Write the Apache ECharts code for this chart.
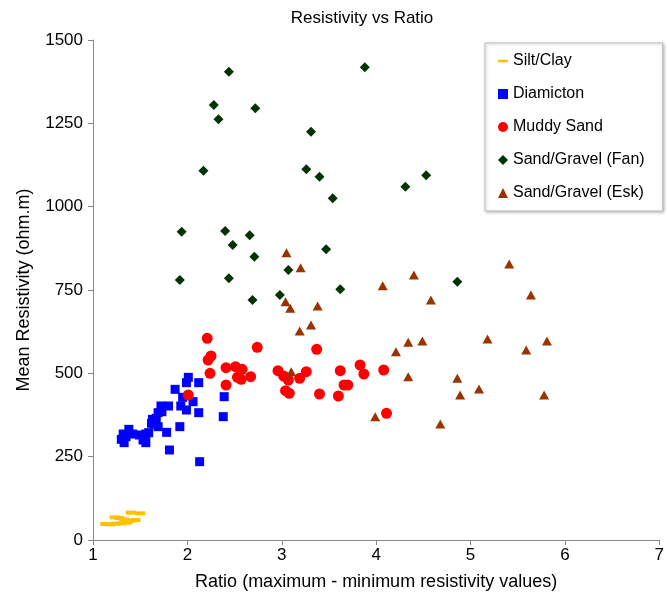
<!DOCTYPE html>
<html>
<head>
<meta charset="utf-8">
<script src="https://cdn.jsdelivr.net/npm/echarts@6/dist/echarts.min.js"></script>
<style>
  html, body { margin: 0; padding: 0; background: #fff; }
  #chart { width: 667px; height: 596px; }
</style>
</head>
<body>
<div id="chart"></div>
<script>
// series names (legend order)
var seriesNames = ['Silt/Clay', 'Diamicton', 'Muddy Sand', 'Sand/Gravel (Fan)', 'Sand/Gravel (Esk)'];

// [ratio, mean resistivity]
var siltClay = [
  [1.13, 48], [1.18, 47], [1.24, 49], [1.30, 50], [1.35, 52],
  [1.23, 68], [1.28, 66], [1.33, 62], [1.37, 55], [1.41, 58],
  [1.45, 60], [1.40, 82], [1.50, 80]
];

var diamicton = [
  [2.01, 488], [1.99, 472], [2.12, 472], [1.87, 452], [1.95, 428],
  [2.06, 415], [2.39, 430], [1.93, 402], [1.99, 390], [2.12, 382],
  [2.38, 370], [1.72, 402], [1.80, 402], [1.69, 382], [1.73, 385],
  [1.63, 362], [1.67, 365], [1.62, 350], [1.65, 348], [1.69, 340],
  [1.92, 340], [1.78, 323], [1.81, 270], [2.13, 235],
  [1.38, 332], [1.32, 318], [1.35, 310], [1.30, 302], [1.33, 292],
  [1.42, 318], [1.49, 315], [1.56, 318], [1.59, 322], [1.53, 300],
  [1.56, 292]
];

var muddySand = [
  [2.21, 605], [2.25, 552], [2.22, 540], [2.74, 578], [2.24, 500],
  [2.41, 517], [2.41, 465], [2.51, 520], [2.58, 512], [2.53, 488],
  [2.57, 482], [2.67, 490], [2.01, 435], [3.37, 572], [2.96, 508],
  [3.02, 492], [3.07, 480], [3.04, 448], [3.08, 440], [3.19, 485],
  [3.26, 505], [3.40, 438], [3.62, 508], [3.60, 432], [3.66, 465],
  [3.70, 465], [3.83, 525], [3.87, 498], [4.08, 510], [4.11, 380]
];

var gravelFan = [
  [2.44, 1405], [2.28, 1305], [2.72, 1295], [2.33, 1262], [3.31, 1225],
  [2.17, 1108], [3.26, 1112], [3.40, 1090], [3.54, 1025], [1.94, 925],
  [2.40, 927], [2.66, 914], [2.48, 885], [3.47, 872], [2.71, 850],
  [3.07, 810], [1.92, 780], [2.44, 785], [3.62, 752], [2.69, 720],
  [2.98, 735], [3.88, 1418], [4.53, 1094], [4.31, 1060], [4.86, 775]
];

var gravelEsk = [
  [3.05, 862], [3.20, 817], [4.40, 795], [4.07, 763], [4.58, 720],
  [3.04, 715], [3.09, 695], [3.38, 702], [3.31, 645], [3.19, 627],
  [4.34, 593], [4.49, 597], [4.21, 565], [3.10, 505], [4.34, 490],
  [4.86, 485], [4.89, 435], [3.99, 370], [4.68, 348], [5.41, 828],
  [5.64, 735], [5.18, 603], [5.59, 570], [5.81, 597], [5.09, 453],
  [5.78, 435]
];

var xTicks = { min: 1, max: 7, step: 1 };
var yTicks = { min: 0, max: 1500, step: 250 };

var colors = ['#FFC000', '#0000FF', '#FF0000', '#003300', '#993300'];
var font = 'Liberation Sans, Arial, sans-serif';

var chart = echarts.init(document.getElementById('chart'), null, { renderer: 'canvas' });

var axisCommon = {
  splitLine: { show: false },
  axisLine: { lineStyle: { color: '#868686', width: 1 } },
  axisTick: { show: true, inside: false, length: 5, lineStyle: { color: '#868686' } },
  axisLabel: { color: '#000', fontSize: 17, fontFamily: font, formatter: function (v) { return String(v); } },
  nameTextStyle: { color: '#000', fontSize: 18, fontFamily: font }
};

function scatter(i, data, symbol, size) {
  return {
    name: seriesNames[i], type: 'scatter', data: data, symbol: symbol, symbolSize: size,
    itemStyle: { color: colors[i], opacity: 1 },
    emphasis: { disabled: true }
  };
}

var option = {
  animation: false,
  backgroundColor: '#fff',
  title: {
    text: 'Resistivity vs Ratio',
    left: 357,
    top: 5,
    textAlign: 'center',
    textStyle: { color: '#000', fontSize: 17, fontWeight: 'normal', fontFamily: font }
  },
  grid: { left: 93, right: 4, top: 40, bottom: 56 },
  legend: {
    orient: 'vertical',
    left: 485,
    top: 43,
    padding: [10, 18, 10, 13],
    itemGap: 17,
    itemWidth: 10,
    itemHeight: 10,
    backgroundColor: '#fff',
    borderColor: '#c0c0c0',
    borderWidth: 1,
    shadowColor: 'rgba(0,0,0,0.25)',
    shadowBlur: 3,
    shadowOffsetX: 1,
    shadowOffsetY: 1,
    textStyle: { color: '#000', fontSize: 16, fontFamily: font },
    data: [
      { name: seriesNames[0], icon: 'path://M0,0H10V2.5H0Z' },
      { name: seriesNames[1], icon: 'path://M0,0H8V8H0Z' },
      { name: seriesNames[2], icon: 'circle' },
      { name: seriesNames[3], icon: 'diamond' },
      { name: seriesNames[4], icon: 'triangle' }
    ]
  },
  xAxis: Object.assign({}, axisCommon, {
    type: 'value',
    min: xTicks.min,
    max: xTicks.max,
    interval: xTicks.step,
    name: 'Ratio (maximum - minimum resistivity values)',
    nameLocation: 'middle',
    nameGap: 33,
    axisLabel: Object.assign({}, axisCommon.axisLabel, { margin: 7 })
  }),
  yAxis: Object.assign({}, axisCommon, {
    type: 'value',
    min: yTicks.min,
    max: yTicks.max,
    interval: yTicks.step,
    name: 'Mean Resistivity (ohm.m)',
    nameLocation: 'middle',
    nameGap: 60,
    axisLabel: Object.assign({}, axisCommon.axisLabel, { margin: 10 })
  }),
  series: [
    scatter(0, siltClay, 'rect', [10, 4]),
    scatter(1, diamicton, 'rect', 9),
    scatter(2, muddySand, 'circle', 11),
    scatter(3, gravelFan, 'diamond', 10),
    scatter(4, gravelEsk, 'triangle', [10, 9])
  ]
};

chart.setOption(option);
</script>
</body>
</html>
